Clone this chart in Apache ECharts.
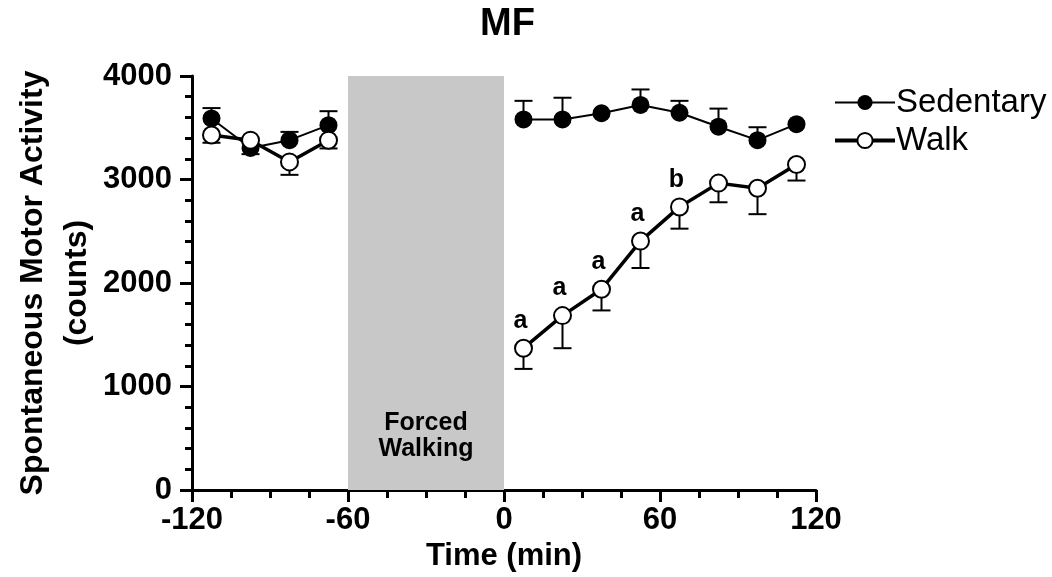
<!DOCTYPE html>
<html>
<head>
<meta charset="utf-8">
<script src="https://cdn.jsdelivr.net/npm/echarts@6/dist/echarts.min.js"></script>
<style>
  html, body { margin: 0; padding: 0; background: #fff; }
  #chart { width: 1052px; height: 577px; }
</style>
</head>
<body>
<div id="chart"></div>
<script>
// time points (min) before and after forced walking
const timePre = [-112.5, -97.5, -82.5, -67.5];
const timePost = [7.5, 22.5, 37.5, 52.5, 67.5, 82.5, 97.5, 112.5];

const sedMean = [3590, 3305, 3380, 3525, 3580, 3580, 3640, 3720, 3645, 3510, 3380, 3535];
const sedErr = [100, 60, 80, 135, 180, 210, 0, 150, 115, 175, 125, 0];
const sedErrDir = [1, -1, 1, 1, 1, 1, 1, 1, 1, 1, 1, 1];

const walkMean = [3430, 3380, 3170, 3380, 1370, 1685, 1940, 2405, 2735, 2965, 2915, 3145];
const walkErr = [75, 0, 125, 80, 200, 315, 205, 260, 210, 185, 250, 155];
const walkErrDir = [-1, -1, -1, -1, -1, -1, -1, -1, -1, -1, -1, -1];
const walkSig = ['', '', '', '', 'a', 'a', 'a', 'a', 'b', '', '', ''];

const bandRange = [-60, 0];
const bandText = 'Forced\nWalking';

const xTicks = { min: -120, max: 120, interval: 60 };
const yTicks = { min: 0, max: 4000, interval: 1000 };

const FONT = '"Liberation Sans", Arial, Helvetica, sans-serif';
const times = timePre.concat(timePost);

function pts(mean, from, to) {
  const out = [];
  for (let i = from; i < to; i++) out.push([times[i], mean[i]]);
  return out;
}
function errData(mean, err, dir) {
  return times.map((t, i) => [t, mean[i], mean[i] + err[i] * dir[i]]);
}

function renderErr(params, api) {
  const x = api.value(0);
  const a = api.coord([x, api.value(1)]);
  const b = api.coord([x, api.value(2)]);
  if (Math.abs(a[1] - b[1]) < 0.5) return null;
  const style = { stroke: '#000', lineWidth: 2 };
  return {
    type: 'group',
    children: [
      { type: 'line', shape: { x1: a[0], y1: a[1], x2: b[0], y2: b[1] }, style },
      { type: 'line', shape: { x1: b[0] - 9, y1: b[1], x2: b[0] + 9, y2: b[1] }, style },
    ],
  };
}

const chart = echarts.init(document.getElementById('chart'));

const sedStyle = {
  type: 'line',
  name: 'Sedentary',
  symbol: 'circle',
  symbolSize: 18,
  lineStyle: { color: '#000', width: 2 },
  itemStyle: { color: '#000' },
  z: 4,
  animation: false,
};
const walkStyle = {
  type: 'line',
  name: 'Walk',
  symbol: 'circle',
  symbolSize: 17,
  lineStyle: { color: '#000', width: 3.5 },
  itemStyle: { color: '#fff', borderColor: '#000', borderWidth: 2 },
  z: 5,
  animation: false,
};

const walkPost = pts(walkMean, timePre.length, times.length).map((p, i) => ({
  value: p,
  label: {
    show: !!walkSig[timePre.length + i],
    formatter: walkSig[timePre.length + i],
  },
}));

chart.setOption({
  backgroundColor: '#fff',
  textStyle: { fontFamily: FONT, color: '#000' },
  title: {
    text: 'MF',
    left: 475,
    top: 1,
    textStyle: { fontSize: 38, fontWeight: 'bold', color: '#000', fontFamily: FONT },
  },
  legend: {
    data: [
      { name: 'Sedentary', lineStyle: { width: 2 } },
      { name: 'Walk', lineStyle: { width: 4 } },
    ],
    orient: 'vertical',
    left: 828,
    top: 81,
    itemWidth: 60,
    itemHeight: 19,
    itemGap: 5,
    textStyle: { fontSize: 33, color: '#000', fontFamily: FONT, padding: [0, 0, 0, -4] },
  },
  grid: { left: 192, right: 236, top: 76, bottom: 87, outerBoundsMode: 'none', containLabel: false },
  xAxis: {
    type: 'value',
    min: xTicks.min,
    max: xTicks.max,
    interval: xTicks.interval,
    name: 'Time (min)',
    nameLocation: 'middle',
    nameGap: 51,
    nameMoveOverlap: false,
    nameTextStyle: { fontSize: 31, fontWeight: 'bold', color: '#000', fontFamily: FONT },
    axisLine: { onZero: false, lineStyle: { color: '#000', width: 3 } },
    axisTick: { length: 12, lineStyle: { color: '#000', width: 3 } },
    minorTick: { show: true, splitNumber: 4, length: 8, lineStyle: { color: '#000', width: 3 } },
    axisLabel: { fontSize: 31, fontWeight: 'bold', color: '#000', margin: 15, fontFamily: FONT },
    splitLine: { show: false },
  },
  yAxis: {
    type: 'value',
    min: yTicks.min,
    max: yTicks.max,
    interval: yTicks.interval,
    name: 'Spontaneous Motor Activity\n(counts)',
    nameLocation: 'middle',
    nameGap: 93,
    nameMoveOverlap: false,
    nameTextStyle: { fontSize: 32, fontWeight: 'bold', color: '#000', lineHeight: 44, fontFamily: FONT },
    axisLine: { show: true, onZero: false, lineStyle: { color: '#000', width: 3 } },
    axisTick: { show: true, length: 12, lineStyle: { color: '#000', width: 3 } },
    minorTick: { show: true, splitNumber: 5, length: 7, lineStyle: { color: '#000', width: 3 } },
    axisLabel: {
      fontSize: 31,
      fontWeight: 'bold',
      color: '#000',
      margin: 20,
      fontFamily: FONT,
      formatter: v => String(v),
    },
    splitLine: { show: false },
  },
  series: [
    {
      type: 'line',
      name: 'band',
      data: [],
      z: 1,
      silent: true,
      markArea: {
        silent: true,
        itemStyle: { color: '#c8c8c8' },
        label: {
          show: true,
          position: ['50%', '87%'],
          align: 'center',
          verticalAlign: 'middle',
          formatter: bandText,
          fontSize: 25,
          fontWeight: 'bold',
          lineHeight: 26,
          color: '#000',
          fontFamily: FONT,
        },
        data: [[{ xAxis: bandRange[0], yAxis: yTicks.min }, { xAxis: bandRange[1], yAxis: yTicks.max }]],
      },
    },
    {
      type: 'custom',
      name: 'sedErr',
      renderItem: renderErr,
      data: errData(sedMean, sedErr, sedErrDir),
      z: 2,
      silent: true,
    },
    {
      type: 'custom',
      name: 'walkErr',
      renderItem: renderErr,
      data: errData(walkMean, walkErr, walkErrDir),
      z: 2,
      silent: true,
    },
    Object.assign({}, sedStyle, { data: pts(sedMean, 0, timePre.length) }),
    Object.assign({}, sedStyle, { data: pts(sedMean, timePre.length, times.length) }),
    Object.assign({}, walkStyle, { data: pts(walkMean, 0, timePre.length) }),
    Object.assign({}, walkStyle, {
      data: walkPost,
      label: {
        position: 'top',
        distance: 5,
        offset: [-3, 0],
        fontSize: 25,
        fontWeight: 'bold',
        color: '#000',
        fontFamily: FONT,
      },
    }),
  ],
});
</script>
</body>
</html>
